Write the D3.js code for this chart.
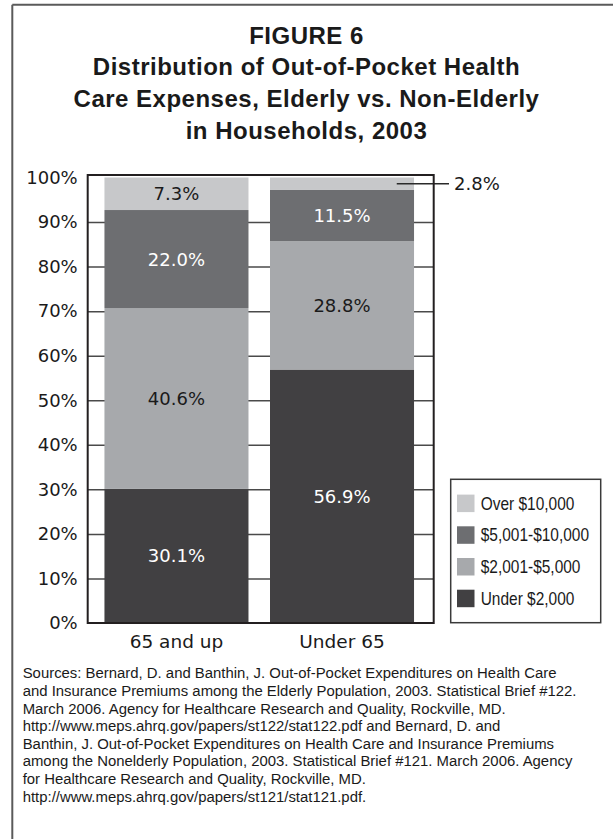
<!DOCTYPE html>
<html>
<head>
<meta charset="utf-8">
<script src="https://cdn.jsdelivr.net/npm/d3@7"></script>
<style>
  html, body { margin: 0; padding: 0; background: #fff; }
  svg { display: block; }
</style>
</head>
<body>
<svg id="chart" width="613" height="839"></svg>
<script>
// Household out-of-pocket health spending shares, 2003
const categories = ["65 and up", "Under 65"];
const seriesNames = ["Under $2,000", "$2,001-$5,000", "$5,001-$10,000", "Over $10,000"];
const under2000 = [30.1, 56.9];
const from2001to5000 = [40.6, 28.8];
const from5001to10000 = [22.0, 11.5];
const over10000 = [7.3, 2.8];
const yTicks = [0, 10, 20, 30, 40, 50, 60, 70, 80, 90, 100];

const titleLines = [
  "FIGURE 6",
  "Distribution of Out-of-Pocket Health",
  "Care Expenses, Elderly vs. Non-Elderly",
  "in Households, 2003"
];
const sourceLines = [
  "Sources: Bernard, D. and Banthin, J. Out-of-Pocket Expenditures on Health Care",
  "and Insurance Premiums among the Elderly Population, 2003. Statistical Brief #122.",
  "March 2006. Agency for Healthcare Research and Quality, Rockville, MD.",
  "http://www.meps.ahrq.gov/papers/st122/stat122.pdf and Bernard, D. and",
  "Banthin, J. Out-of-Pocket Expenditures on Health Care and Insurance Premiums",
  "among the Nonelderly Population, 2003. Statistical Brief #121. March 2006. Agency",
  "for Healthcare Research and Quality, Rockville, MD.",
  "http://www.meps.ahrq.gov/papers/st121/stat121.pdf."
];

const seriesValues = [under2000, from2001to5000, from5001to10000, over10000];
const fills = ["#414042", "#a7a9ac", "#6d6e71", "#c7c8ca"];
const labelInk = ["#ffffff", "#1a1a1a", "#ffffff", "#1a1a1a"];

const rows = categories.map((c, i) => {
  const r = { category: c };
  seriesNames.forEach((s, k) => { r[s] = seriesValues[k][i]; });
  return r;
});

const svg = d3.select("#chart");

// page frame (left and top rules)
svg.append("line").attr("x1", 12.3).attr("x2", 12.3).attr("y1", 4.7).attr("y2", 839)
  .attr("stroke", "#5a5a5a").attr("stroke-width", 2);
svg.append("line").attr("x1", 12.3).attr("x2", 613).attr("y1", 4.7).attr("y2", 4.7)
  .attr("stroke", "#5a5a5a").attr("stroke-width", 2);

// title
svg.append("g").selectAll("text").data(titleLines).join("text")
  .attr("x", 306.5)
  .attr("y", (d, i) => 43.5 + i * 31.7)
  .attr("text-anchor", "middle")
  .attr("font-family", "'Liberation Sans', Arial, sans-serif")
  .attr("font-weight", "bold")
  .attr("font-size", 24)
  .attr("letter-spacing", 0.5)
  .attr("fill", "#1a1a1a")
  .text(d => d);

// plot geometry
const plotLeft = 87.7, plotRight = 433.7, plotTop = 175, plotBottom = 623;

const x = d3.scaleBand()
  .domain(categories)
  .range([plotLeft, plotRight])
  .paddingInner(0.13)
  .paddingOuter(0.11)
  .align(0.46);

const y = d3.scaleLinear().domain([0, 100]).range([plotBottom, 177.5]);

// gridlines + y tick labels
const yAxis = svg.append("g")
  .attr("transform", `translate(${plotLeft},0)`)
  .call(d3.axisLeft(y).tickValues(yTicks).tickSize(-(plotRight - plotLeft)).tickPadding(10)
    .tickFormat(d => d + "%"));
yAxis.select(".domain").remove();
yAxis.selectAll(".tick line").attr("stroke", "#4a4a4a").attr("stroke-width", 1.5)
  .filter(d => d === 0 || d === 100).remove();
yAxis.selectAll(".tick text")
  .attr("font-family", "'DejaVu Sans', sans-serif")
  .attr("font-size", 18)
  .attr("fill", "#1a1a1a");

// stacked bars
const stacked = d3.stack().keys(seriesNames)(rows);

const layers = svg.append("g").selectAll("g").data(stacked).join("g")
  .attr("fill", (d, k) => fills[k]);

layers.selectAll("rect").data(d => d).join("rect")
  .attr("x", d => x(d.data.category))
  .attr("width", x.bandwidth())
  .attr("y", d => y(d[1]))
  .attr("height", d => y(d[0]) - y(d[1]));

// segment value labels
stacked.forEach((layer, k) => {
  layer.forEach(seg => {
    const v = seg.data[layer.key];
    const cy = y((seg[0] + seg[1]) / 2);
    const txt = v.toFixed(1) + "%";
    if (v >= 5) {
      svg.append("text")
        .attr("x", x(seg.data.category) + x.bandwidth() / 2)
        .attr("y", cy)
        .attr("dy", "0.36em")
        .attr("text-anchor", "middle")
        .attr("font-family", "'DejaVu Sans', sans-serif")
        .attr("font-size", 18)
        .attr("fill", labelInk[k])
        .text(txt);
    } else {
      // thin segment: callout to the right of the plot
      const x0 = x(seg.data.category) + x.bandwidth() * 0.88;
      svg.append("line")
        .attr("x1", x0).attr("x2", 449)
        .attr("y1", cy).attr("y2", cy)
        .attr("stroke", "#2a2a2a").attr("stroke-width", 1.3);
      svg.append("text")
        .attr("x", 454)
        .attr("y", cy)
        .attr("dy", "0.36em")
        .attr("font-family", "'DejaVu Sans', sans-serif")
        .attr("font-size", 18)
        .attr("fill", "#1a1a1a")
        .text(txt);
    }
  });
});

// plot frame
svg.append("rect")
  .attr("x", plotLeft).attr("y", plotTop)
  .attr("width", plotRight - plotLeft).attr("height", plotBottom - plotTop)
  .attr("fill", "none").attr("stroke", "#231f20").attr("stroke-width", 2);

// category labels
svg.append("g").selectAll("text").data(categories).join("text")
  .attr("x", d => x(d) + x.bandwidth() / 2)
  .attr("y", 647.5)
  .attr("text-anchor", "middle")
  .attr("font-family", "'DejaVu Sans', sans-serif")
  .attr("font-size", 18.5)
  .attr("fill", "#1a1a1a")
  .text(d => d);

// legend
const legend = svg.append("g");
legend.append("rect")
  .attr("x", 450.7).attr("y", 479.3).attr("width", 150).attr("height", 143.4)
  .attr("fill", "#fff").attr("stroke", "#3a3a3a").attr("stroke-width", 1.5);
const legendOrder = seriesNames.map((s, k) => ({ name: s, fill: fills[k] })).reverse();
const items = legend.selectAll("g.item").data(legendOrder).join("g")
  .attr("class", "item")
  .attr("transform", (d, i) => `translate(457,${503.3 + i * 31.7})`);
items.append("rect")
  .attr("x", 0).attr("y", -8.7).attr("width", 17.5).attr("height", 17.5)
  .attr("fill", d => d.fill);
// condensed legend lettering
items.append("g")
  .attr("transform", "translate(23.7,0) scale(0.86,1)")
  .append("text")
  .attr("x", 0).attr("y", 0).attr("dy", "0.36em")
  .attr("font-family", "'Liberation Sans', Arial, sans-serif")
  .attr("font-size", 18)
  .attr("fill", "#1a1a1a")
  .text(d => d.name);

// sources note
svg.append("g").selectAll("text").data(sourceLines).join("text")
  .attr("x", 22.7)
  .attr("y", (d, i) => 678.3 + i * 17.63)
  .attr("font-family", "'Liberation Sans', Arial, sans-serif")
  .attr("font-size", 14.9)
  .attr("fill", "#1a1a1a")
  .text(d => d);
</script>
</body>
</html>
